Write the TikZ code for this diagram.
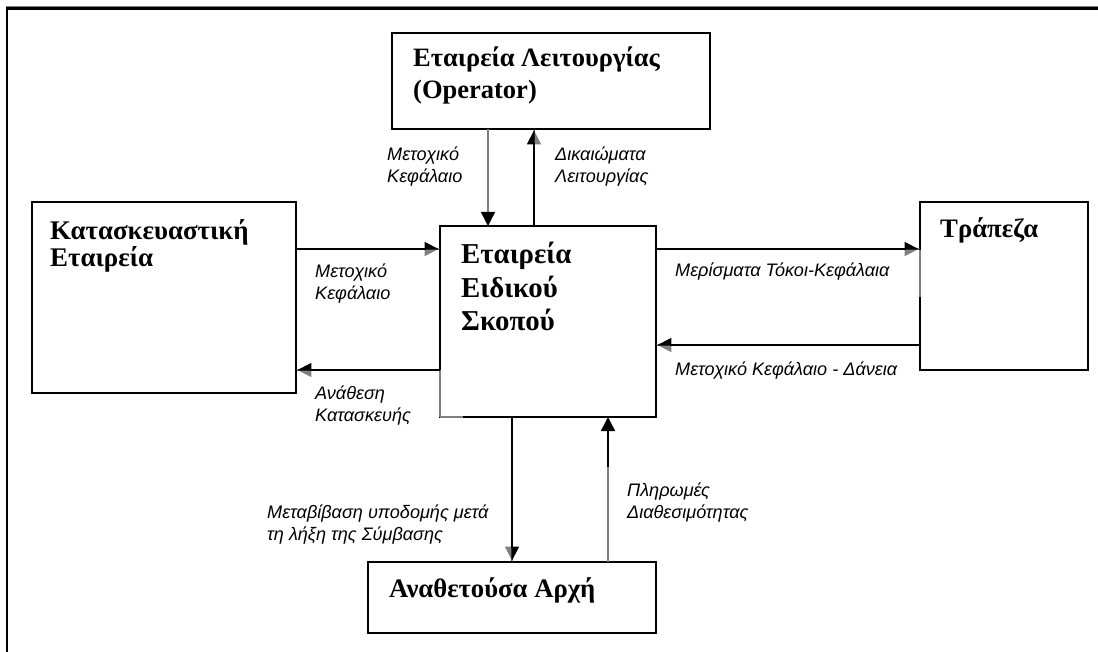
\documentclass[tikz,border=0pt]{standalone}
\usepackage{fontspec}
\setmainfont{Liberation Serif}
\newfontfamily\lblfont{Liberation Sans}
\usetikzlibrary{arrows.meta}

\definecolor{halftone}{gray}{0.5}

\begin{document}
\begin{tikzpicture}[x=1pt,y=-1pt,
  boxframe/.style={draw, line width=1.6pt, rectangle, inner sep=0pt, outer sep=0pt},
  % multi-line nodes: the base anchor sits on the last line
  ttl/.style 2 args={anchor=base west, inner sep=0pt, align=left,
    font=\bfseries\fontsize{#1}{#2}\selectfont},
  lbl/.style={anchor=base west, inner sep=0pt, align=left,
    font=\lblfont\itshape\fontsize{18.1}{22}\selectfont},
  flow/.style={line width=1.4pt},
  hl/.style={-{Triangle[length=14pt,width=14pt,left]}},
  hr/.style={-{Triangle[length=14pt,width=14pt,right]}},
  hf/.style={-{Triangle[length=14pt,width=14pt]}},
]
\useasboundingbox (0,0) rectangle (1098,652);

% page frame: top and left rules
\draw[line width=2.2pt] (7,652) -- (7,8.5) -- (1098,8.5);
\draw[halftone, line width=1pt] (6,6.8) -- (1098,6.8);

% boxes
\node[boxframe, minimum width=318pt, minimum height=96pt]  (op)   at (551,81)    {};
\node[boxframe, minimum width=264pt, minimum height=191pt] (kat)  at (164,297.5) {};
\node[boxframe, minimum width=216pt, minimum height=191pt] (spv)  at (548,321.5) {};
\node[boxframe, minimum width=168pt, minimum height=168pt] (bank) at (1004,286)  {};
\node[boxframe, minimum width=288pt, minimum height=71pt]  (auth) at (512,597.5) {};

% lighter stretches of the box outlines
\draw[halftone, line width=1.6pt] (spv.south west) -- ++(0,-47);
\draw[halftone, line width=1.6pt] (spv.south west) -- ++(23,0);
\draw[halftone, line width=1.6pt] ([yshift=-48pt]bank.north west) -- ++(0,47);

% box titles
\node[ttl={26.5}{32}]   (opT)   at (413,99)  {Εταιρεία Λειτουργίας\\(Operator)};
\node[ttl={26.9}{27}]   (katT)  at (50,267)  {Κατασκευαστική\\Εταιρεία};
\node[ttl={28.8}{33.5}] (spvT)  at (461,331) {Εταιρεία\\Ειδικού\\Σκοπού};
\node[ttl={26.7}{30}]   (bankT) at (940,238) {Τράπεζα};
\node[ttl={26.7}{30}]   (authT) at (389,597) {Αναθετούσα Αρχή};

% connector positions
\coordinate (xa) at (488,0);
\coordinate (xb) at (534,0);
\coordinate (xc) at (512,0);
\coordinate (xd) at (608,0);
\coordinate (ya) at (0,249);
\coordinate (yb) at (0,370);
\coordinate (yc) at (0,345);

% operator <-> SPV
\draw[flow, halftone, -{Triangle[length=14pt,width=14pt,black]}] (op.south -| xa) -- (spv.north -| xa);
\draw[flow, halftone, hr] (spv.north -| xb) -- (op.south -| xb);
\draw[flow, hl] (spv.north -| xb) -- (op.south -| xb);

% constructor <-> SPV
\draw[flow, halftone, hr] (kat.east |- ya) -- (spv.west |- ya);
\draw[flow, hl] (kat.east |- ya) -- (spv.west |- ya);
\draw[flow, halftone, hl] (spv.west |- yb) -- (kat.east |- yb);
\draw[flow, hr] (spv.west |- yb) -- (kat.east |- yb);

% SPV <-> bank
\draw[flow, halftone, hr] (spv.east |- ya) -- (bank.west |- ya);
\draw[flow, hl] (spv.east |- ya) -- (bank.west |- ya);
\draw[flow, halftone, hl] (bank.west |- yc) -- (spv.east |- yc);
\draw[flow, hr] (bank.west |- yc) -- (spv.east |- yc);

% SPV <-> contracting authority
\draw[flow, halftone, hr] (spv.south -| xc) -- (auth.north -| xc);
\draw[flow, hl] (spv.south -| xc) -- (auth.north -| xc);
\draw[flow, hf] (auth.north -| xd) -- (spv.south -| xd);
\draw[flow, halftone] (auth.north -| xd) -- ++(0,-95);

% flow labels
\node[lbl] (l1) at (387,183) {Μετοχικό\\Κεφάλαιο};
\node[lbl] (l2) at (555,183) {Δικαιώματα\\Λειτουργίας};
\node[lbl] (l3) at (315,300) {Μετοχικό\\Κεφάλαιο};
\node[lbl] (l4) at (315,421) {Ανάθεση\\Κατασκευής};
\node[lbl] (l5) at (675,277) {Μερίσματα Τόκοι-Κεφάλαια};
\node[lbl] (l6) at (675,375) {Μετοχικό Κεφάλαιο - Δάνεια};
\node[lbl] (l7) at (267,540) {Μεταβίβαση υποδομής μετά\\τη λήξη της Σύμβασης};
\node[lbl] (l8) at (627,518) {Πληρωμές\\Διαθεσιμότητας};
\end{tikzpicture}
\end{document}
